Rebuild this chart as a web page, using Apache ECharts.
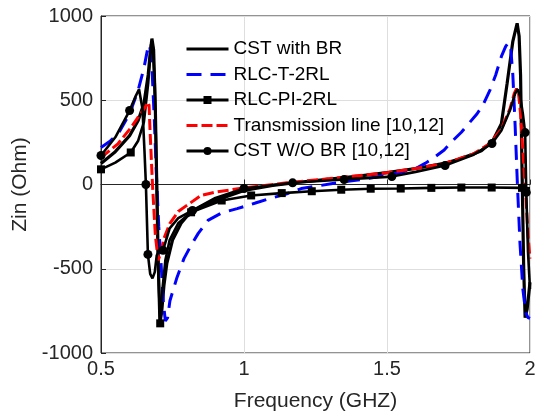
<!DOCTYPE html>
<html>
<head>
<meta charset="utf-8">
<script src="https://cdn.jsdelivr.net/npm/echarts@6/dist/echarts.min.js"></script>
<style>html,body{margin:0;padding:0;background:#fff}#c{width:546px;height:418px}</style>
</head>
<body>
<div id="c"></div>
<script>
// ---- data (frequency in GHz, impedance in Ohm) ----
var xTicks = [0.5, 1, 1.5, 2];
var yTicks = [-1000, -500, 0, 500, 1000];
var seriesNames = ['CST with BR', 'RLC-T-2RL', 'RLC-PI-2RL', 'Transmission line [10,12]', 'CST W/O BR [10,12]'];

var cstBrF = [0.5, 0.55, 0.6, 0.63, 0.65, 0.665, 0.672, 0.678, 0.684, 0.69, 0.695, 0.7, 0.706, 0.712, 0.72, 0.73, 0.75, 0.78, 0.8, 0.85, 0.9, 1.0, 1.1, 1.2, 1.3, 1.4, 1.5, 1.6, 1.7, 1.75, 1.8, 1.83, 1.87, 1.9, 1.92, 1.94, 1.955, 1.962, 1.967, 1.972, 1.978, 1.983, 1.99, 2.0];
var cstBrV = [125, 195, 290, 380, 480, 650, 780, 866, 800, 450, 0, -450, -820, -760, -600, -470, -330, -230, -190, -130, -95, -35, -5, 15, 32, 50, 70, 95, 125, 150, 180, 200, 260, 360, 600, 850, 957, 880, 650, 100, -500, -790, -740, -580];

var rlcTF = [0.5, 0.53, 0.56, 0.6, 0.63, 0.65, 0.664, 0.67, 0.678, 0.686, 0.694, 0.702, 0.71, 0.718, 0.725, 0.733, 0.741, 0.766, 0.79, 0.811, 0.84, 0.874, 0.92, 0.976, 1.04, 1.09, 1.15, 1.2, 1.26, 1.31, 1.37, 1.43, 1.49, 1.545, 1.6, 1.633, 1.66, 1.7, 1.727, 1.76, 1.79, 1.815, 1.835, 1.86, 1.88, 1.9, 1.915, 1.925, 1.933, 1.94, 1.948, 1.956, 1.965, 1.975, 1.985, 1.993, 2.0];
var rlcTV = [220, 255, 300, 420, 560, 690, 812, 830, 700, 400, 50, -250, -470, -700, -810, -790, -690, -550, -440, -373, -290, -213, -170, -143, -110, -83, -55, -24, -8, 6, 20, 35, 52, 71, 95, 125, 154, 205, 255, 310, 370, 420, 470, 560, 650, 760, 820, 842, 800, 650, 350, 0, -350, -620, -760, -790, -795];

var rlcPiF = [0.5, 0.55, 0.604, 0.63, 0.65, 0.665, 0.675, 0.68, 0.688, 0.695, 0.7, 0.707, 0.715, 0.725, 0.74, 0.77, 0.815, 0.922, 1.025, 1.132, 1.237, 1.34, 1.443, 1.548, 1.655, 1.76, 1.866, 1.972, 2.0];
var rlcPiV = [90, 130, 190, 260, 370, 600, 830, 850, 600, 0, -500, -824, -620, -450, -330, -230, -165, -95, -65, -51, -40, -31, -25, -24, -20, -18, -18, -20, -22];
var rlcPiMark = [1, 0, 1, 0, 0, 0, 0, 0, 0, 0, 0, 1, 0, 0, 0, 0, 1, 1, 1, 1, 1, 1, 1, 1, 1, 1, 1, 1, 0];

var tlF = [0.5, 0.56, 0.605, 0.63, 0.654, 0.664, 0.668, 0.672, 0.68, 0.69, 0.7, 0.71, 0.72, 0.741, 0.77, 0.8, 0.85, 0.9, 1.0, 1.15, 1.3, 1.5, 1.6, 1.7, 1.8, 1.86, 1.9, 1.93, 1.945, 1.953, 1.96, 1.967, 1.975, 1.985, 1.993, 2.0];
var tlV = [160, 243, 338, 400, 457, 488, 470, 300, 0, -300, -450, -400, -320, -231, -160, -124, -65, -45, -20, 10, 35, 70, 95, 125, 180, 243, 330, 450, 540, 569, 540, 420, 200, -50, -300, -440];

var cstNoF = [0.5, 0.55, 0.6, 0.62, 0.633, 0.645, 0.652, 0.657, 0.664, 0.672, 0.68, 0.688, 0.695, 0.705, 0.717, 0.74, 0.77, 0.82, 0.9, 1.0, 1.17, 1.35, 1.517, 1.6, 1.703, 1.8, 1.867, 1.9, 1.93, 1.948, 1.957, 1.966, 1.975, 1.983, 1.987, 1.993, 2.0];
var cstNoV = [172, 280, 439, 520, 565, 450, 200, 0, -415, -530, -557, -520, -420, -390, -390, -260, -200, -154, -80, -24, 10, 30, 47, 75, 113, 175, 243, 320, 440, 540, 565, 520, 420, 308, -47, -400, -620];
var cstNoMark = [1, 0, 1, 0, 0, 0, 0, 1, 1, 0, 0, 0, 0, 0, 1, 0, 0, 1, 0, 1, 1, 1, 1, 0, 1, 0, 1, 0, 0, 0, 0, 0, 0, 1, 1, 0, 0];

// ---- build ----
function pairs(f, v, mark, sym) {
  return f.map(function (x, i) {
    var d = { value: [x, v[i]] };
    if (mark) d.symbol = mark[i] ? sym : 'none';
    return d;
  });
}
var axisColor = '#262626';
var font = '"Liberation Sans", Arial, Helvetica, sans-serif';
var lineOnly = [true, true, false, true, false];

var chart = echarts.init(document.getElementById('c'), null, { renderer: 'canvas' });
chart.setOption({
  animation: false,
  backgroundColor: '#ffffff',
  grid: { left: 101, right: 16, top: 16, bottom: 65, show: true, borderColor: axisColor, borderWidth: 1, backgroundColor: 'transparent' },
  legend: {
    data: seriesNames.map(function (n, i) {
      return lineOnly[i] ? { name: n, itemStyle: { opacity: 0 } } : { name: n };
    }),
    orient: 'vertical',
    left: 185,
    top: 38,
    padding: 0,
    itemWidth: 42,
    itemHeight: 10,
    itemGap: 3.5,
    lineStyle: { width: 3 },
    textStyle: { fontFamily: font, fontSize: 19, color: '#000', lineHeight: 22 },
    backgroundColor: 'transparent'
  },
  xAxis: {
    type: 'value', min: xTicks[0], max: xTicks[xTicks.length - 1], interval: 0.5,
    name: 'Frequency (GHZ)', nameLocation: 'middle', nameGap: 38,
    nameTextStyle: { fontFamily: font, fontSize: 21, color: axisColor },
    axisLine: { show: true, lineStyle: { color: axisColor } },
    axisTick: { show: true, inside: true, length: 5, lineStyle: { color: axisColor } },
    axisLabel: { fontFamily: font, fontSize: 20, color: axisColor, margin: 6, formatter: function (v) { return String(v); } },
    splitLine: { show: true, lineStyle: { color: '#dedede' } }
  },
  yAxis: {
    type: 'value', min: yTicks[0], max: yTicks[yTicks.length - 1], interval: 500,
    name: 'Zin (Ohm)', nameLocation: 'middle', nameGap: 42, nameRotate: 90,
    nameTextStyle: { fontFamily: font, fontSize: 21, color: axisColor },
    axisLine: { show: true, lineStyle: { color: axisColor } },
    axisTick: { show: true, inside: true, length: 5, lineStyle: { color: axisColor } },
    axisLabel: { fontFamily: font, fontSize: 20, color: axisColor, margin: 8, formatter: function (v) { return String(v); } },
    splitLine: { show: true, lineStyle: { color: '#dedede' } }
  },
  series: [
    { name: seriesNames[0], type: 'line', symbol: 'none', data: pairs(cstBrF, cstBrV),
      lineStyle: { color: '#000', width: 3.2 }, itemStyle: { color: '#000' } },
    { name: seriesNames[1], type: 'line', symbol: 'none', data: pairs(rlcTF, rlcTV),
      lineStyle: { color: '#0000ff', width: 3, type: [15, 9] }, itemStyle: { color: '#0000ff' } },
    { name: seriesNames[2], type: 'line', symbol: 'rect', symbolSize: 8, showSymbol: true, showAllSymbol: true,
      data: pairs(rlcPiF, rlcPiV, rlcPiMark, 'rect'),
      lineStyle: { color: '#000', width: 2.6 }, itemStyle: { color: '#000' } },
    { name: seriesNames[3], type: 'line', symbol: 'none', data: pairs(tlF, tlV),
      lineStyle: { color: '#ff0000', width: 3, type: [11, 4] }, itemStyle: { color: '#ff0000' } },
    { name: seriesNames[4], type: 'line', symbol: 'circle', symbolSize: 9, showSymbol: true, showAllSymbol: true,
      data: pairs(cstNoF, cstNoV, cstNoMark, 'circle'),
      lineStyle: { color: '#000', width: 2.6 }, itemStyle: { color: '#000' } }
  ]
});
</script>
</body>
</html>
